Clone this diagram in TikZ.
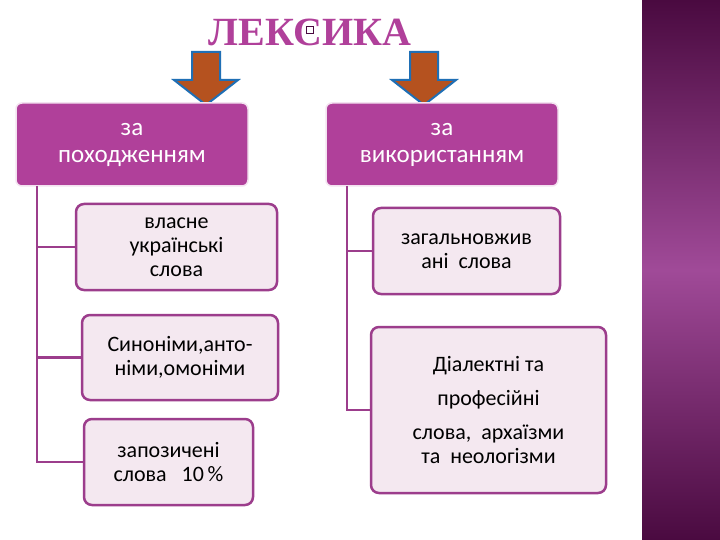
\documentclass[tikz,border=0pt]{standalone}
\usepackage{fontspec}
\setmainfont{Carlito}
\newfontfamily\titlefont{Liberation Serif}
\definecolor{mag}{HTML}{B0409A}
\definecolor{edge}{HTML}{9C3D8C}
\definecolor{pinkbg}{HTML}{F4E8F0}
\definecolor{darkbar}{HTML}{4A0A40}
\definecolor{lightbar}{HTML}{A04A98}
\definecolor{arrfill}{HTML}{B5521F}
\definecolor{arredge}{HTML}{1F6FB5}
\begin{document}
\begin{tikzpicture}[x=1pt,y=-1pt,
  mainbox/.style={draw=white!85!mag,line width=1.5pt,fill=mag,rounded corners=6pt,text=white,font=\fontsize{25}{27}\selectfont,align=center,inner sep=0pt},
  subbox/.style={draw=edge,line width=2.5pt,fill=pinkbg,rounded corners=8pt,font=\fontsize{22}{24}\selectfont,align=center,inner sep=0pt},
  link/.style={draw=edge,line width=2.5pt},
  bigarrow/.style={fill=arrfill,draw=arredge,line width=2pt,line join=miter}]
\useasboundingbox (0,0) rectangle (720,540);
\fill[white] (0,0) rectangle (720,540);
\shade[top color=darkbar,bottom color=lightbar] (642,0) rectangle (720,270);
\shade[top color=lightbar,bottom color=darkbar] (642,270) rectangle (720,540);
\node[font=\titlefont\bfseries\fontsize{40}{40}\selectfont,text=mag,draw=darkbar] (title) at (310,30) {};
\node[text=mag,font=\titlefont\bfseries\fontsize{40}{40}\selectfont] (titletext) at (310,32) {ЛЕКСИКА};
\draw[bigarrow] (192,52) -- (220,52) -- (220,80) -- (238,80) -- (206,105) -- (174,80) -- (192,80) -- cycle;
\draw[bigarrow] (410,52) -- (438,52) -- (438,80) -- (456,80) -- (424,105) -- (392,80) -- (410,80) -- cycle;
\node[mainbox,minimum width=232pt,minimum height=83pt] (L) at (132,144.5) {за\\походженням};
\node[mainbox,minimum width=232pt,minimum height=83pt] (R) at (442,144.5) {за\\використанням};
\node[subbox,minimum width=201pt,minimum height=86pt] (L1) at (176.5,247) {власне\\українські\\слова};
\node[subbox,minimum width=196pt,minimum height=85pt] (L2) at (180,357.5) {Синоніми,анто-\\німи,омоніми};
\node[subbox,minimum width=169pt,minimum height=86pt] (L3) at (168.5,462) {запозичені\\слова \ \ 10\,\%};
\node[subbox,minimum width=187pt,minimum height=86pt] (R1) at (466.5,251) {загальновжив\\ані \ слова};
\node[subbox,minimum width=235pt,minimum height=166pt] (R2) at (488.5,410) {Діалектні та\\[10pt]професійні\\[10pt]слова, \ архаїзми\\та \ неологізми};
\coordinate (lt) at (37,186);
\coordinate (rt) at (347,186);
\draw[link] (lt) |- (L3.west);
\draw[link] (lt |- L1.west) -- (L1.west);
\draw[link] (lt |- L2.west) -- (L2.west);
\draw[link] (rt) |- (R2.west);
\draw[link] (rt |- R1.west) -- (R1.west);
\end{tikzpicture}
\end{document}
